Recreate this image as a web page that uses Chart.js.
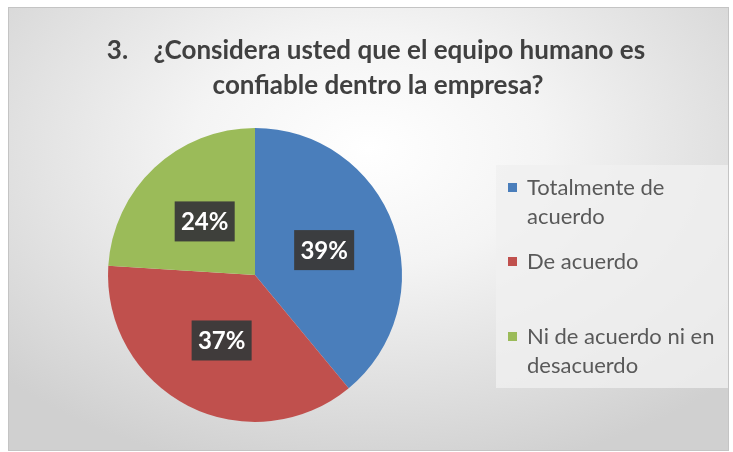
<!DOCTYPE html>
<html>
<head>
<meta charset="utf-8">
<script src="https://cdn.jsdelivr.net/npm/chart.js@4"></script>
<style>
  html, body { margin: 0; padding: 0; background: #ffffff; }
  #wrap {
    position: absolute; left: 8px; top: 7px; width: 721px; height: 444px;
    box-sizing: border-box; border: 1px solid #c4c4c4;
    background: radial-gradient(ellipse 70% 75% at 50% 32%, #ffffff 0%, #f4f4f4 35%, #dedede 75%, #d0d0d0 100%);
  }
  canvas { display: block; }
</style>
</head>
<body>
<div id="wrap"><canvas id="c" width="719" height="442"></canvas></div>
<script>
const titleLines = ['3.    ¿Considera usted que el equipo humano es', 'confiable dentro la empresa?'];
const categories = ['Totalmente de acuerdo', 'De acuerdo', 'Ni de acuerdo ni en desacuerdo'];
const legendLines = [['Totalmente de', 'acuerdo'], ['De acuerdo'], ['Ni de acuerdo ni en', 'desacuerdo']];
const percentages = [39, 37, 24];
const sliceColors = ['#4a7ebb', '#c0504d', '#9bbb59'];

const FONT = 'Lato, "Open Sans", "Liberation Sans", sans-serif';

const titlePlugin = {
  id: 'customTitle',
  afterDraw(chart) {
    const ctx = chart.ctx;
    ctx.save();
    ctx.fillStyle = '#404040';
    ctx.font = 'bold 26px ' + FONT;
    ctx.textAlign = 'center';
    ctx.textBaseline = 'middle';
    ctx.fillText(titleLines[0], 367, 43);
    ctx.fillText(titleLines[1], 369, 78);
    ctx.restore();
  }
};

const legendPlugin = {
  id: 'customLegend',
  beforeDatasetsDraw(chart) {
    const ctx = chart.ctx;
    ctx.save();
    ctx.fillStyle = 'rgba(240,240,240,0.8)';
    ctx.fillRect(487, 157, 232, 223);
    ctx.restore();
  },
  afterDraw(chart) {
    const ctx = chart.ctx;
    const items = chart.options.plugins.legend.labels.generateLabels(chart);
    const itemY = [180, 254, 329];
    ctx.save();
    ctx.font = '22px ' + FONT;
    ctx.textBaseline = 'middle';
    ctx.textAlign = 'left';
    items.forEach((it, i) => {
      ctx.fillStyle = it.fillStyle;
      ctx.fillRect(499, itemY[i] - 5, 9, 9);
      ctx.fillStyle = '#595959';
      legendLines[i].forEach((ln, j) => {
        ctx.fillText(ln, 518, itemY[i] + j * 29);
      });
    });
    ctx.restore();
  }
};

const labelPlugin = {
  id: 'pctLabels',
  afterDatasetsDraw(chart) {
    const ctx = chart.ctx;
    const meta = chart.getDatasetMeta(0);
    ctx.save();
    ctx.font = 'bold 24px ' + FONT;
    ctx.textAlign = 'center';
    ctx.textBaseline = 'middle';
    meta.data.forEach((arc, i) => {
      const p = arc.tooltipPosition();
      const txt = chart.data.datasets[0].data[i] + '%';
      const w = 60, h = 40;
      ctx.fillStyle = 'rgba(58,58,58,0.96)';
      ctx.fillRect(p.x - w / 2, p.y - h / 2, w, h);
      ctx.fillStyle = '#ffffff';
      ctx.fillText(txt, p.x, p.y + 1);
    });
    ctx.restore();
  }
};

new Chart(document.getElementById('c'), {
  type: 'pie',
  data: {
    labels: categories,
    datasets: [{
      data: percentages,
      backgroundColor: sliceColors,
      borderWidth: 0,
      hoverOffset: 0,
      offset: 0
    }]
  },
  options: {
    responsive: false,
    animation: false,
    radius: 147,
    layout: { padding: { top: 121, bottom: 29, left: 0, right: 227 } },
    plugins: {
      legend: { display: false },
      title: { display: false },
      tooltip: { enabled: false }
    }
  },
  plugins: [legendPlugin, labelPlugin, titlePlugin]
});
</script>
</body>
</html>
